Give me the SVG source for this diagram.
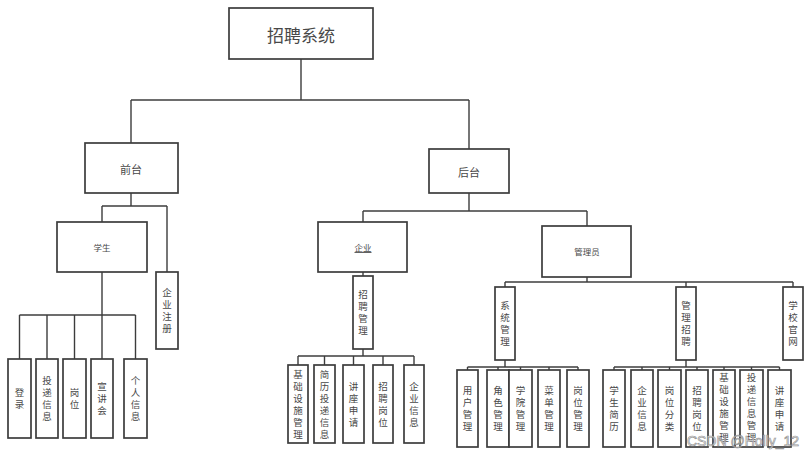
<svg xmlns="http://www.w3.org/2000/svg" width="810" height="458" viewBox="0 0 810 458">
<style>
rect{fill:#fff;stroke:#3c3c3c;stroke-width:1.7}
#connectors line{stroke:#3c3c3c;stroke-width:1.4}
text{font-family:"Noto Sans CJK SC","Noto Sans",sans-serif;fill:#484848;text-anchor:middle;dominant-baseline:central}
.v{font-size:9.5px;writing-mode:vertical-rl;letter-spacing:2.5px}
.s{font-size:8.5px}
.m{font-size:11px}
</style>
<rect x="0" y="0" width="810" height="458" style="stroke:none"/>
<g id="connectors">
<line x1="301" y1="59" x2="301" y2="100"/><line x1="131" y1="100" x2="469" y2="100"/>
<line x1="131" y1="100" x2="131" y2="143"/><line x1="469" y1="100" x2="469" y2="149"/>
<line x1="131" y1="193" x2="131" y2="206"/><line x1="102" y1="206" x2="167" y2="206"/>
<line x1="102" y1="206" x2="102" y2="222"/><line x1="167" y1="206" x2="167" y2="272"/>
<line x1="102" y1="272" x2="102" y2="315"/><line x1="19.5" y1="315" x2="135.5" y2="315"/>
<line x1="19.5" y1="315" x2="19.5" y2="359"/><line x1="47" y1="315" x2="47" y2="359"/>
<line x1="74.5" y1="315" x2="74.5" y2="359"/><line x1="102" y1="315" x2="102" y2="359"/>
<line x1="135.5" y1="315" x2="135.5" y2="359"/>
<line x1="469" y1="193" x2="469" y2="211"/><line x1="363" y1="211" x2="587" y2="211"/>
<line x1="363" y1="211" x2="363" y2="222"/><line x1="587" y1="211" x2="587" y2="226"/>
<line x1="363" y1="272" x2="363" y2="276"/>
<line x1="363" y1="349" x2="363" y2="356"/><line x1="298" y1="356" x2="414" y2="356"/>
<line x1="298" y1="356" x2="298" y2="365"/><line x1="324.5" y1="356" x2="324.5" y2="365"/>
<line x1="353.5" y1="356" x2="353.5" y2="365"/><line x1="383" y1="356" x2="383" y2="365"/>
<line x1="414" y1="356" x2="414" y2="365"/>
<line x1="587" y1="277" x2="587" y2="282"/><line x1="505" y1="282" x2="793" y2="282"/>
<line x1="505" y1="282" x2="505" y2="287"/><line x1="686" y1="282" x2="686" y2="287"/>
<line x1="793" y1="282" x2="793" y2="287"/>
<line x1="505" y1="360" x2="505" y2="367"/><line x1="467.5" y1="367" x2="578" y2="367"/>
<line x1="467.5" y1="367" x2="467.5" y2="370"/><line x1="498" y1="367" x2="498" y2="370"/>
<line x1="520.5" y1="367" x2="520.5" y2="370"/><line x1="549" y1="367" x2="549" y2="370"/>
<line x1="578" y1="367" x2="578" y2="370"/>
<line x1="686" y1="360" x2="686" y2="367"/><line x1="614" y1="367" x2="779.5" y2="367"/>
<line x1="614" y1="367" x2="614" y2="370"/><line x1="642" y1="367" x2="642" y2="370"/>
<line x1="669.5" y1="367" x2="669.5" y2="370"/><line x1="697" y1="367" x2="697" y2="370"/>
<line x1="724" y1="367" x2="724" y2="370"/><line x1="751.5" y1="367" x2="751.5" y2="370"/>
<line x1="779.5" y1="367" x2="779.5" y2="370"/>
</g>
<g id="root"><rect x="229" y="8" width="144" height="51"/><text x="301" y="34" style="font-size:17px">招聘系统</text></g>
<g id="qiantai"><rect x="85" y="143" width="93" height="50"/><text x="131" y="169" class="m">前台</text></g>
<g id="houtai"><rect x="429" y="149" width="80" height="44"/><text x="469" y="172" class="m">后台</text></g>
<g id="xuesheng"><rect x="57" y="222" width="90" height="50"/><text x="102" y="247" class="s">学生</text></g>
<g id="qiyezhuce"><rect x="156" y="272" width="22" height="77"/><text x="167" y="312" class="v">企业注册</text></g>
<g id="denglu"><rect x="8" y="359" width="23" height="79"/><text x="19.5" y="400" class="v">登录</text></g>
<g id="toudixinxi"><rect x="36" y="359" width="22" height="79"/><text x="47" y="400" class="v">投递信息</text></g>
<g id="gangwei"><rect x="63" y="359" width="23" height="79"/><text x="74.5" y="400" class="v">岗位</text></g>
<g id="xuanjianghui"><rect x="91" y="359" width="22" height="79"/><text x="102" y="400" class="v">宣讲会</text></g>
<g id="gerenxinxi"><rect x="124" y="359" width="23" height="79"/><text x="135.5" y="400" class="v">个人信息</text></g>
<g id="qiye"><rect x="318" y="222" width="89" height="50"/><text x="363" y="247" class="s" text-decoration="underline">企业</text></g>
<g id="zhaopinguanli"><rect x="353" y="276" width="20" height="73"/><text x="363" y="314" class="v">招聘管理</text></g>
<g id="qy-jichusheshi"><rect x="288" y="365" width="20" height="78"/><text x="298" y="405.5" class="v">基础设施管理</text></g>
<g id="qy-jianlitoudi"><rect x="314" y="365" width="21" height="78"/><text x="324.5" y="405.5" class="v">简历投递信息</text></g>
<g id="qy-jiangzuo"><rect x="343" y="365" width="21" height="78"/><text x="353.5" y="405.5" class="v">讲座申请</text></g>
<g id="qy-zhaopingangwei"><rect x="373" y="365" width="20" height="78"/><text x="383" y="405.5" class="v">招聘岗位</text></g>
<g id="qy-qiyexinxi"><rect x="404" y="365" width="20" height="78"/><text x="414" y="405.5" class="v">企业信息</text></g>
<g id="guanliyuan"><rect x="542" y="226" width="89" height="51"/><text x="587" y="251" class="s">管理员</text></g>
<g id="xitongguanli"><rect x="495" y="287" width="20" height="73"/><text x="505" y="325" class="v">系统管理</text></g>
<g id="guanlizhaopin"><rect x="676" y="287" width="20" height="73"/><text x="686" y="325" class="v">管理招聘</text></g>
<g id="xuexiaoguanwang"><rect x="783" y="287" width="20" height="73"/><text x="793" y="325" class="v">学校官网</text></g>
<g id="yonghuguanli"><rect x="457" y="370" width="21" height="77"/><text x="467.5" y="410" class="v">用户管理</text></g>
<g id="jueseguanli"><rect x="487" y="370" width="22" height="77"/><text x="498" y="410" class="v">角色管理</text></g>
<g id="xueyuanguanli"><rect x="509" y="370" width="23" height="77"/><text x="520.5" y="410" class="v">学院管理</text></g>
<g id="caidanguanli"><rect x="538" y="370" width="22" height="77"/><text x="549" y="410" class="v">菜单管理</text></g>
<g id="gangweiguanli"><rect x="567" y="370" width="22" height="77"/><text x="578" y="410" class="v">岗位管理</text></g>
<g id="xueshengjianli"><rect x="603" y="370" width="22" height="77"/><text x="614" y="410" class="v">学生简历</text></g>
<g id="gl-qiyexinxi"><rect x="631" y="370" width="22" height="77"/><text x="642" y="410" class="v">企业信息</text></g>
<g id="gangweifenlei"><rect x="658" y="370" width="23" height="77"/><text x="669.5" y="410" class="v">岗位分类</text></g>
<g id="gl-zhaopingangwei"><rect x="686" y="370" width="22" height="77"/><text x="697" y="410" class="v">招聘岗位</text></g>
<g id="gl-jichusheshi"><rect x="713" y="370" width="22" height="77"/><text x="724" y="409" class="v">基础设施管理</text></g>
<g id="gl-toudixinxi"><rect x="740" y="370" width="23" height="77"/><text x="751.5" y="409" class="v">投递信息管理</text></g>
<g id="gl-jiangzuo"><rect x="768" y="370" width="23" height="77"/><text x="779.5" y="410" class="v">讲座申请</text></g>
<text x="743" y="441" style="font-family:'Liberation Sans',sans-serif;font-size:14px;fill:#fff;stroke:#8a8a8a;stroke-width:0.7;opacity:0.9">CSDN @Holly_12</text>
</svg>
